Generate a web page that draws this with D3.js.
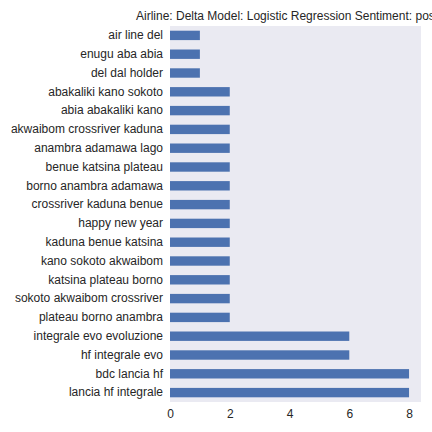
<!DOCTYPE html>
<html>
<head>
<meta charset="utf-8">
<script src="https://cdn.jsdelivr.net/npm/d3@7"></script>
<style>
  body { margin: 0; background: #fff; }
  text { font-family: "Liberation Sans", Arial, sans-serif; fill: #262626; }
</style>
</head>
<body>
<svg id="chart" width="432" height="432"></svg>
<script>
const phrases = [
  "air line del", "enugu aba abia", "del dal holder", "abakaliki kano sokoto",
  "abia abakaliki kano", "akwaibom crossriver kaduna", "anambra adamawa lago",
  "benue katsina plateau", "borno anambra adamawa", "crossriver kaduna benue",
  "happy new year", "kaduna benue katsina", "kano sokoto akwaibom",
  "katsina plateau borno", "sokoto akwaibom crossriver", "plateau borno anambra",
  "integrale evo evoluzione", "hf integrale evo", "bdc lancia hf", "lancia hf integrale"
];
const counts = [1, 1, 1, 2, 2, 2, 2, 2, 2, 2, 2, 2, 2, 2, 2, 2, 6, 6, 8, 8];
const xTicks = [0, 2, 4, 6, 8];
const title = "Airline: Delta Model: Logistic Regression Sentiment: positive";

const margin = { top: 26, right: 11, bottom: 30, left: 170 };
const WIDTH = 432;
const HEIGHT = 432;

const svg = d3.select("#chart");

const xScale = d3.scaleLinear()
  .domain([0, 8.4])
  .range([margin.left, WIDTH - margin.right]);

const yScale = d3.scaleBand()
  .domain(phrases)
  .range([margin.top, HEIGHT - margin.bottom])
  .paddingInner(0.5)
  .paddingOuter(0.25);

svg.append("rect")
  .attr("x", margin.left)
  .attr("y", margin.top)
  .attr("width", WIDTH - margin.right - margin.left)
  .attr("height", HEIGHT - margin.bottom - margin.top)
  .attr("fill", "#EAEAF2");

svg.append("g")
  .selectAll("rect")
  .data(phrases)
  .enter()
  .append("rect")
  .attr("x", xScale(0))
  .attr("y", (d) => yScale(d))
  .attr("width", (d, i) => xScale(counts[i]) - xScale(0))
  .attr("height", yScale.bandwidth())
  .attr("fill", "#4C72B0");

const yAxis = svg.append("g")
  .attr("transform", `translate(${margin.left}, 0)`)
  .call(d3.axisLeft(yScale).tickSize(0).tickPadding(7));
yAxis.select(".domain").remove();
yAxis.selectAll("text").style("font-size", "12px").attr("fill", "#262626");

const xAxis = svg.append("g")
  .attr("transform", `translate(0, ${HEIGHT - margin.bottom})`)
  .call(d3.axisBottom(xScale).tickValues(xTicks).tickSize(0).tickPadding(7));
xAxis.select(".domain").remove();
xAxis.selectAll("text").style("font-size", "12px").attr("fill", "#262626");

// title runs past the right edge, as in the original figure
svg.append("text")
  .attr("x", 136)
  .attr("y", 20)
  .style("font-size", "12px")
  .text(title);
</script>
</body>
</html>
